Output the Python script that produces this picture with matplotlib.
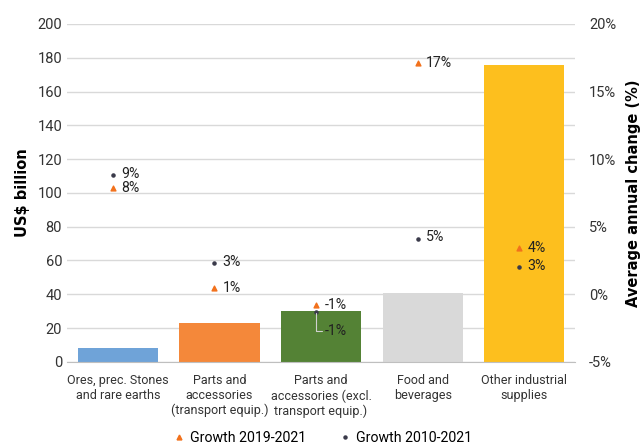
import numpy as np
import matplotlib.pyplot as plt
from matplotlib.lines import Line2D

plt.rcParams['font.family'] = ['Roboto', 'DejaVu Sans']

# Data
categories = ["Ores, prec. Stones\nand rare earths",
              "Parts and\naccessories\n(transport equip.)",
              "Parts and\naccessories (excl.\ntransport equip.)",
              "Food and\nbeverages",
              "Other industrial\nsupplies"]
trade_value = [8, 23, 30, 41, 176]  # US$ billion
growth_19_21 = [7.9, 0.5, -0.8, 17.1, 3.4]  # %
growth_10_21 = [8.8, 2.3, -1.3, 4.1, 2.0]   # %
labels_19_21 = ["8%", "1%", "-1%", "17%", "4%"]
labels_10_21 = ["9%", "3%", "-1%", "5%", "3%"]

bar_colors = ["#6FA3D8", "#F4883A", "#548235", "#D9D9D9", "#FDBF1E"]
tri_color = "#F2711C"
dot_color = "#3A3A4A"

fig = plt.figure(figsize=(6.44, 4.44), dpi=100)
ax = fig.add_axes([0.104, 0.185, 0.789, 0.761])
ax2 = ax.twinx()

x = np.arange(len(categories))
ax.bar(x, trade_value, width=0.79, color=bar_colors, zorder=2)
ax.set_xlim(-0.5, len(categories) - 0.5)
ax.set_ylim(0, 200)
ax.set_yticks(np.arange(0, 201, 20))
ax.grid(axis="y", color="#D9D9D9", linewidth=1, zorder=0)
ax.set_axisbelow(True)
ax.set_xticks(x)
ax.set_xticklabels(categories, color="#222222", linespacing=1.18)
ax.tick_params(axis="both", length=0, labelsize=10.5, colors="#333333")
ax.tick_params(axis="x", pad=9, labelsize=9.0)
for s in ["top", "right", "left"]:
    ax.spines[s].set_visible(False)
ax.spines["bottom"].set_color("#BFBFBF")
ax.set_ylabel("US$ billion", fontsize=10.5, fontweight="bold", labelpad=5,
              family=["DejaVu Sans"])

ax2.set_ylim(-5, 20)
ax2.set_yticks(np.arange(-5, 21, 5))
ax2.set_yticklabels([f"{v}%" for v in range(-5, 21, 5)])
ax2.tick_params(axis="y", length=0, labelsize=10.5, colors="#333333", pad=10)
for s in ["top", "right", "left", "bottom"]:
    ax2.spines[s].set_visible(False)
ax2.set_ylabel("Average annual change (%)", fontsize=10.5, fontweight="bold",
               labelpad=7, family=["DejaVu Sans"])

xm = x - 0.05
ax2.scatter(xm, growth_19_21, marker="^", s=12, color=tri_color, zorder=4)
ax2.scatter(xm, growth_10_21, marker="o", s=5, color=dot_color, zorder=4)

for i in range(len(categories)):
    ax2.annotate(labels_19_21[i], (xm[i], growth_19_21[i]), xytext=(6, 0),
                 textcoords="offset points", va="center", ha="left",
                 fontsize=10.2, color="#222222", zorder=5)
    if i == 2:
        ax2.annotate(labels_10_21[i], (xm[i], growth_10_21[i]), xytext=(6, -14),
                     textcoords="offset points", va="center", ha="left",
                     fontsize=10.2, color="#222222", zorder=5,
                     arrowprops=dict(arrowstyle="-", color="#D0D0D0", lw=0.8,
                                     shrinkA=0, shrinkB=1,
                                     connectionstyle="angle,angleA=0,angleB=90,rad=0"))
    else:
        ax2.annotate(labels_10_21[i], (xm[i], growth_10_21[i]), xytext=(6, 1),
                     textcoords="offset points", va="center", ha="left",
                     fontsize=10.2, color="#222222", zorder=5)

handles = [Line2D([], [], marker="^", linestyle="none", markersize=3.5, color=tri_color),
           Line2D([], [], marker="o", linestyle="none", markersize=2.2, color=dot_color)]
fig.legend(handles, ["Growth 2019-2021", "Growth 2010-2021"], loc="lower center",
           bbox_to_anchor=(0.5, -0.03), ncol=2, frameon=False, fontsize=10.2,
           handletextpad=0.3, columnspacing=2.2, handlelength=1.0)

fig.savefig("out.png", dpi=100)
